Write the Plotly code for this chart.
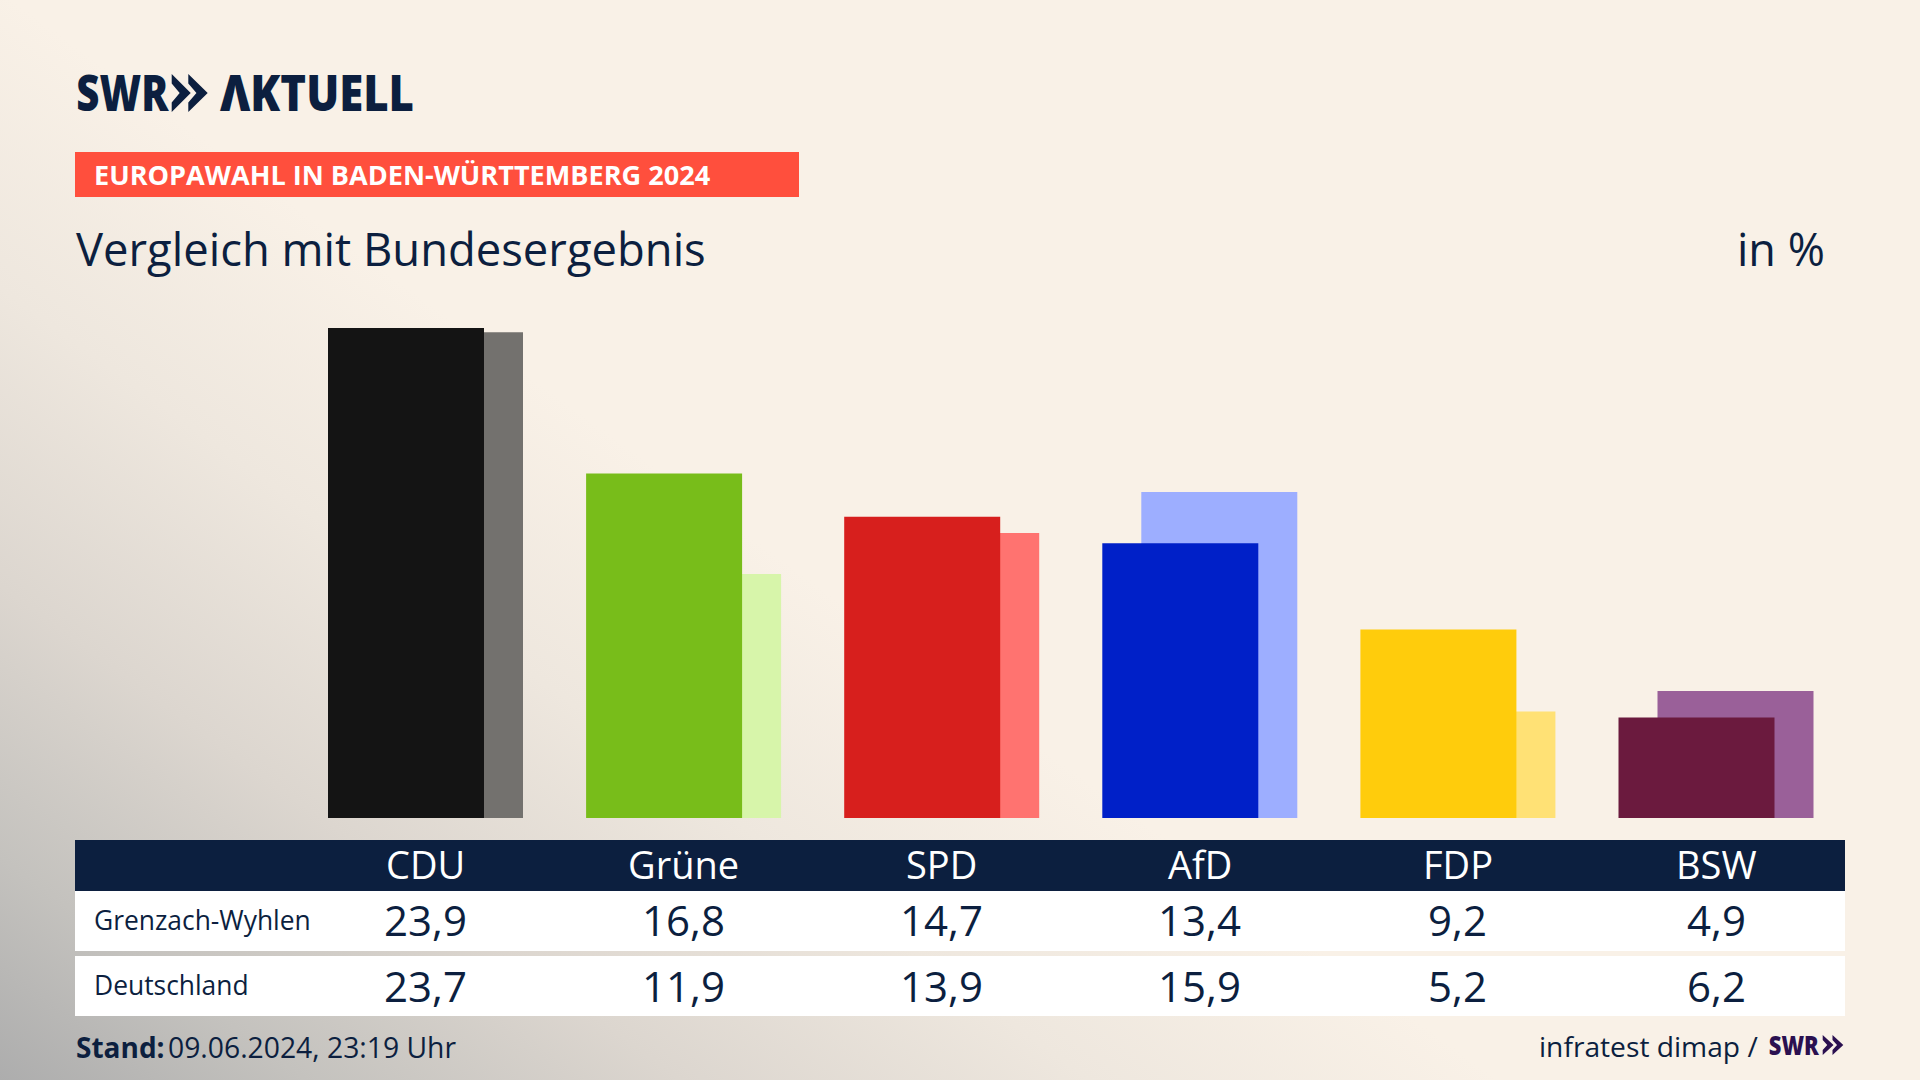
import plotly.graph_objects as go

# Wahlergebnisse in Prozent
parties = ["CDU", "Grüne", "SPD", "AfD", "FDP", "BSW"]
local_name = "Grenzach-Wyhlen"
national_name = "Deutschland"
local_values = [23.9, 16.8, 14.7, 13.4, 9.2, 4.9]
national_values = [23.7, 11.9, 13.9, 15.9, 5.2, 6.2]

local_colors = ["#141414", "#78bd1a", "#d71f1d", "#0020c8", "#ffcc0c", "#6b1a3e"]
national_colors = ["#73716e", "#d7f5aa", "#ff7370", "#9daeff", "#ffe175", "#9a6099"]

NAVY = "#0c1f3f"
PURPLE = "#2b1050"
FONT = "Open Sans"
W, H = 1920, 1080
STEP = 258.1  # pixel distance between two parties
CENTER = 425.5  # pixel position of the first party
PX_PER_UNIT = 20.5
BASE = 818


def X(p):
    return p / W


def Y(p):
    return 1 - p / H


def label(text, x, y, size, color=NAVY, anchor="left", xref="paper", weight=400):
    if xref == "paper":
        x = X(x)
    return dict(text=text, x=x, y=Y(y), xref=xref, yref="paper", xanchor=anchor, yanchor="middle",
                showarrow=False, font=dict(family=FONT, size=size, color=color, weight=weight))


def rect(x0, y0, x1, y1, color):
    return dict(type="rect", xref="paper", yref="paper", x0=X(x0), x1=X(x1), y0=Y(y0), y1=Y(y1),
                fillcolor=color, line_width=0, layer="below")


def chevron(x0, x1, y0, y1, color):
    # one arrow of the SWR logo, vertical back edge with a notch
    h = y1 - y0
    mid = (y0 + y1) / 2
    notch = x0 + (x1 - x0) * 0.42
    pts = [(x0, y0), (x1, mid), (x0, y1), (x0, y1 - h * 0.25), (notch, mid), (x0, y0 + h * 0.25)]
    path = "M" + " L".join(f"{X(a)},{Y(b)}" for a, b in pts) + " Z"
    return dict(type="path", xref="paper", yref="paper", path=path, fillcolor=color, line_width=0)


fig = go.Figure()
fig.add_trace(go.Bar(x=parties, y=national_values, name=national_name,
                     marker=dict(color=national_colors, line_width=0),
                     width=156 / STEP, offset=-58.5 / STEP))
fig.add_trace(go.Bar(x=parties, y=local_values, name=local_name,
                     marker=dict(color=local_colors, line_width=0),
                     width=156 / STEP, offset=-97.5 / STEP))

shapes = [
    rect(75, 152, 799, 197, "#ff4f3d"),
    rect(75, 840, 1845, 891, NAVY),
    rect(75, 891, 1845, 951, "white"),
    rect(75, 956, 1845, 1016, "white"),
    chevron(171.7, 190.7, 74, 112, NAVY),
    chevron(188.3, 207.7, 74, 112, NAVY),
    chevron(1822.7, 1833.5, 1035, 1055, PURPLE),
    chevron(1832.5, 1843.3, 1035, 1055, PURPLE),
]

annotations = [
    label("SWR", 123, 92, 50, anchor="center", weight=800),
    label("ΛKTUELL", 317, 92, 50, anchor="center", weight=800),
    label("EUROPAWAHL IN BADEN-WÜRTTEMBERG 2024", 92, 174.5, 27.1, color="white", weight=700),
    label("Vergleich mit Bundesergebnis", 74, 248, 45.4),
    label("in %", 1827, 248, 45, anchor="right"),
    label(local_name, 92, 920, 26.4),
    label(national_name, 92, 985, 26.4),
    label("Stand:", 74, 1047, 28, weight=700),
    label("09.06.2024, 23:19 Uhr", 166, 1047, 28.3),
    label("infratest dimap /", 1760, 1046, 28.2, anchor="right"),
    label("SWR", 1794, 1045, 26, color=PURPLE, anchor="center", weight=800),
]

for party, a, b in zip(parties, local_values, national_values):
    annotations.append(label(party, party, 864, 38, color="white", anchor="center", xref="x"))
    annotations.append(label(f"{a:.1f}".replace(".", ","), party, 919.5, 42, anchor="center", xref="x"))
    annotations.append(label(f"{b:.1f}".replace(".", ","), party, 985, 42, anchor="center", xref="x"))

fig.update_layout(
    width=W, height=H, autosize=False,
    margin=dict(l=0, r=0, t=0, b=0),
    barmode="overlay",
    showlegend=False,
    paper_bgcolor="rgba(0,0,0,0)",
    plot_bgcolor="rgba(0,0,0,0)",
    shapes=shapes,
    annotations=annotations,
    xaxis=dict(type="category", categoryorder="array", categoryarray=parties,
               range=[-CENTER / STEP, (W - CENTER) / STEP], visible=False),
    yaxis=dict(range=[0, 25], domain=[Y(BASE), Y(BASE - 25 * PX_PER_UNIT)], visible=False),
)

# Plotly kennt keinen Verlauf im Hintergrund, deshalb per CSS
# das Logo ist schmaler als die Schrift, daher textLength
post = """
document.documentElement.style.height = '100%';
document.body.style.margin = '0';
document.body.style.overflow = 'hidden';
document.body.style.background = 'linear-gradient(36deg, #adadad 0%, #c4c2be 9%, #dcd6cf 20%, #eee7de 32%, #f9f1e7 44%) no-repeat fixed';
document.querySelectorAll('.annotation-text').forEach(function (t) {
    var len = null;
    if (t.textContent === 'SWR') { len = parseFloat(t.style.fontSize) > 40 ? 92 : 50; }
    if (t.textContent === 'ΛKTUELL') { len = 194; }
    if (len) {
        t.setAttribute('textLength', len);
        t.setAttribute('lengthAdjust', 'spacingAndGlyphs');
    }
});
"""
fig.write_html("out.html", post_script=post, config=dict(displayModeBar=False))
